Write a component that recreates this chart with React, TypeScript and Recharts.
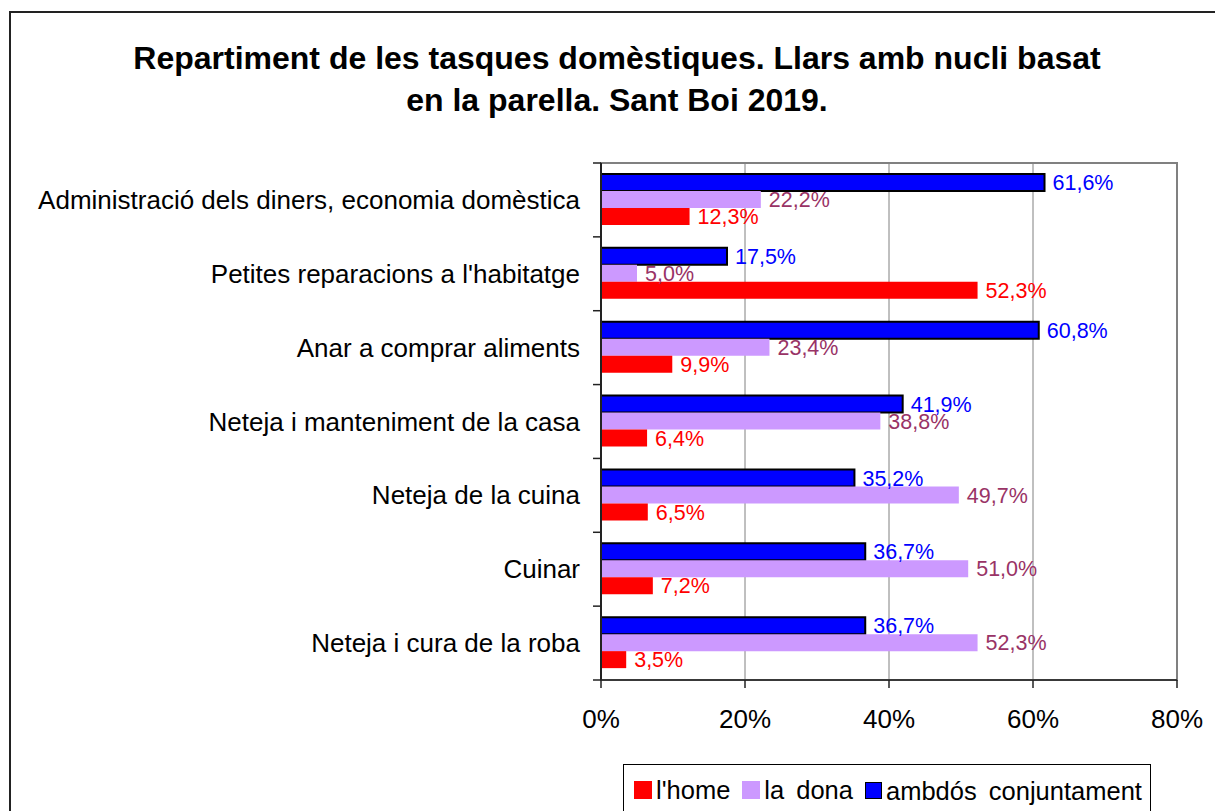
import React from "react";
import { Bar, BarChart, CartesianGrid, LabelList, ReferenceArea, XAxis, YAxis } from "recharts";

const CATEGORIES = [
  "Administració dels diners, economia domèstica",
  "Petites reparacions a l'habitatge",
  "Anar a comprar aliments",
  "Neteja i manteniment de la casa",
  "Neteja de la cuina",
  "Cuinar",
  "Neteja i cura de la roba",
];
const HOME = [12.3, 52.3, 9.9, 6.4, 6.5, 7.2, 3.5];
const DONA = [22.2, 5.0, 23.4, 38.8, 49.7, 51.0, 52.3];
const AMBDOS = [61.6, 17.5, 60.8, 41.9, 35.2, 36.7, 36.7];
const X_TICKS = [0, 20, 40, 60, 80];

const FONT = "Arial, 'Liberation Sans', sans-serif";
const RED = "#FF0000";
const LILAC = "#CC99FF";
const BLUE = "#0000FF";
const DONA_TEXT = "#993366";
const GRID = "#808080";
const AXIS = "#222";

const W = 1215;
const H = 811;
const MARGIN = { top: 163, right: 38, bottom: 71, left: 0 };
const Y_WIDTH = 601;
const TICK_SIZE = 8;
const Y_TICK_MARGIN = 13;
const BAND = (H - MARGIN.top - MARGIN.bottom - 60) / CATEGORIES.length;

const data = CATEGORIES.map((name, i) => ({
  name,
  home: HOME[i],
  dona: DONA[i],
  ambdos: AMBDOS[i],
}));

const pct = (v: any) => `${Number(v).toFixed(1).replace(".", ",")}%`;

function CategoryTick(props: any) {
  const { x, y, payload, index } = props;
  const half = payload?.offset || BAND / 2;
  const axisX = x + Y_TICK_MARGIN + TICK_SIZE;
  return (
    <g>
      <line x1={axisX - TICK_SIZE} x2={axisX} y1={y - half} y2={y - half} stroke={AXIS} strokeWidth={1.5} />
      {index === CATEGORIES.length - 1 ? (
        <line x1={axisX - TICK_SIZE} x2={axisX} y1={y + half} y2={y + half} stroke={AXIS} strokeWidth={1.5} />
      ) : null}
      <text x={x} y={y} textAnchor="end" dominantBaseline="central" fontSize={26} fill="#000" fontFamily={FONT}>
        {payload.value}
      </text>
    </g>
  );
}

function LegendItem({ color, label, border }: { color: string; label: string; border?: boolean }) {
  return (
    <span style={{ display: "inline-flex", alignItems: "center", marginRight: 12 }}>
      <span
        style={{
          display: "inline-block",
          width: border ? 15 : 18,
          height: border ? 15 : 18,
          background: color,
          border: border ? "1.5px solid #000" : "none",
          marginRight: 4,
        }}
      />
      <span>{label}</span>
    </span>
  );
}

export default function App() {
  return (
    <div style={{ position: "absolute", left: 0, top: 0, width: W, height: H, overflow: "hidden", background: "#fff", fontFamily: FONT }}>
      {/* outer frame, runs off the right and bottom edges */}
      <div style={{ position: "absolute", left: 9, top: 11, width: 1260, height: 900, border: "2px solid #222" }} />

      <div
        style={{
          position: "absolute",
          left: 9,
          top: 37,
          width: 1216,
          textAlign: "center",
          fontSize: 32,
          fontWeight: "bold",
          lineHeight: "42px",
          color: "#000",
        }}
      >
        Repartiment de les tasques domèstiques. Llars amb nucli basat
        <br />
        en la parella. Sant Boi 2019.
      </div>

      <div style={{ position: "absolute", left: 0, top: 0 }}>
        <BarChart
          width={W}
          height={H}
          data={data}
          layout="vertical"
          margin={MARGIN}
          barSize={17}
          barGap={0}
        >
          <CartesianGrid horizontal={false} stroke={GRID} strokeWidth={1} />
          {/* plot frame (top and right edges) */}
          <ReferenceArea x1={0} x2={80} fill="none" stroke={GRID} strokeWidth={2} ifOverflow="visible" />
          <XAxis
            type="number"
            domain={[0, 80]}
            ticks={X_TICKS}
            tickFormatter={(v) => `${v}%`}
            height={60}
            tickSize={TICK_SIZE}
            tickMargin={22}
            axisLine={{ stroke: AXIS, strokeWidth: 1.5 }}
            tickLine={{ stroke: AXIS, strokeWidth: 1.5 }}
            tick={{ fontSize: 26, fill: "#000", fontFamily: FONT }}
            interval={0}
          />
          <YAxis
            type="category"
            dataKey="name"
            width={Y_WIDTH}
            tickSize={TICK_SIZE}
            tickMargin={Y_TICK_MARGIN}
            tickLine={{ stroke: "transparent" }}
            axisLine={{ stroke: AXIS, strokeWidth: 2 }}
            tick={<CategoryTick />}
            interval={0}
          />
          <Bar dataKey="ambdos" fill={BLUE} stroke="#000" strokeWidth={2} isAnimationActive={false}>
            <LabelList dataKey="ambdos" position="right" offset={8} formatter={pct} fill={BLUE} fontSize={21.5} fontFamily={FONT} />
          </Bar>
          <Bar dataKey="dona" fill={LILAC} isAnimationActive={false}>
            <LabelList dataKey="dona" position="right" offset={8} formatter={pct} fill={DONA_TEXT} fontSize={21.5} fontFamily={FONT} />
          </Bar>
          <Bar dataKey="home" fill={RED} isAnimationActive={false}>
            <LabelList dataKey="home" position="right" offset={8} formatter={pct} fill={RED} fontSize={21.5} fontFamily={FONT} />
          </Bar>
        </BarChart>
      </div>

      {/* legend box, cut off by the bottom edge like the original */}
      <div
        style={{
          position: "absolute",
          left: 623,
          top: 764,
          width: 528,
          height: 80,
          border: "1px solid #000",
          boxSizing: "border-box",
          padding: "10px 0 0 10px",
          fontSize: 25.5,
          lineHeight: "30px",
          wordSpacing: 5,
          color: "#000",
          whiteSpace: "nowrap",
          background: "#fff",
        }}
      >
        <LegendItem color={RED} label="l'home" />
        <LegendItem color={LILAC} label="la dona" />
        <LegendItem color={BLUE} label="ambdós conjuntament" border />
      </div>
    </div>
  );
}
